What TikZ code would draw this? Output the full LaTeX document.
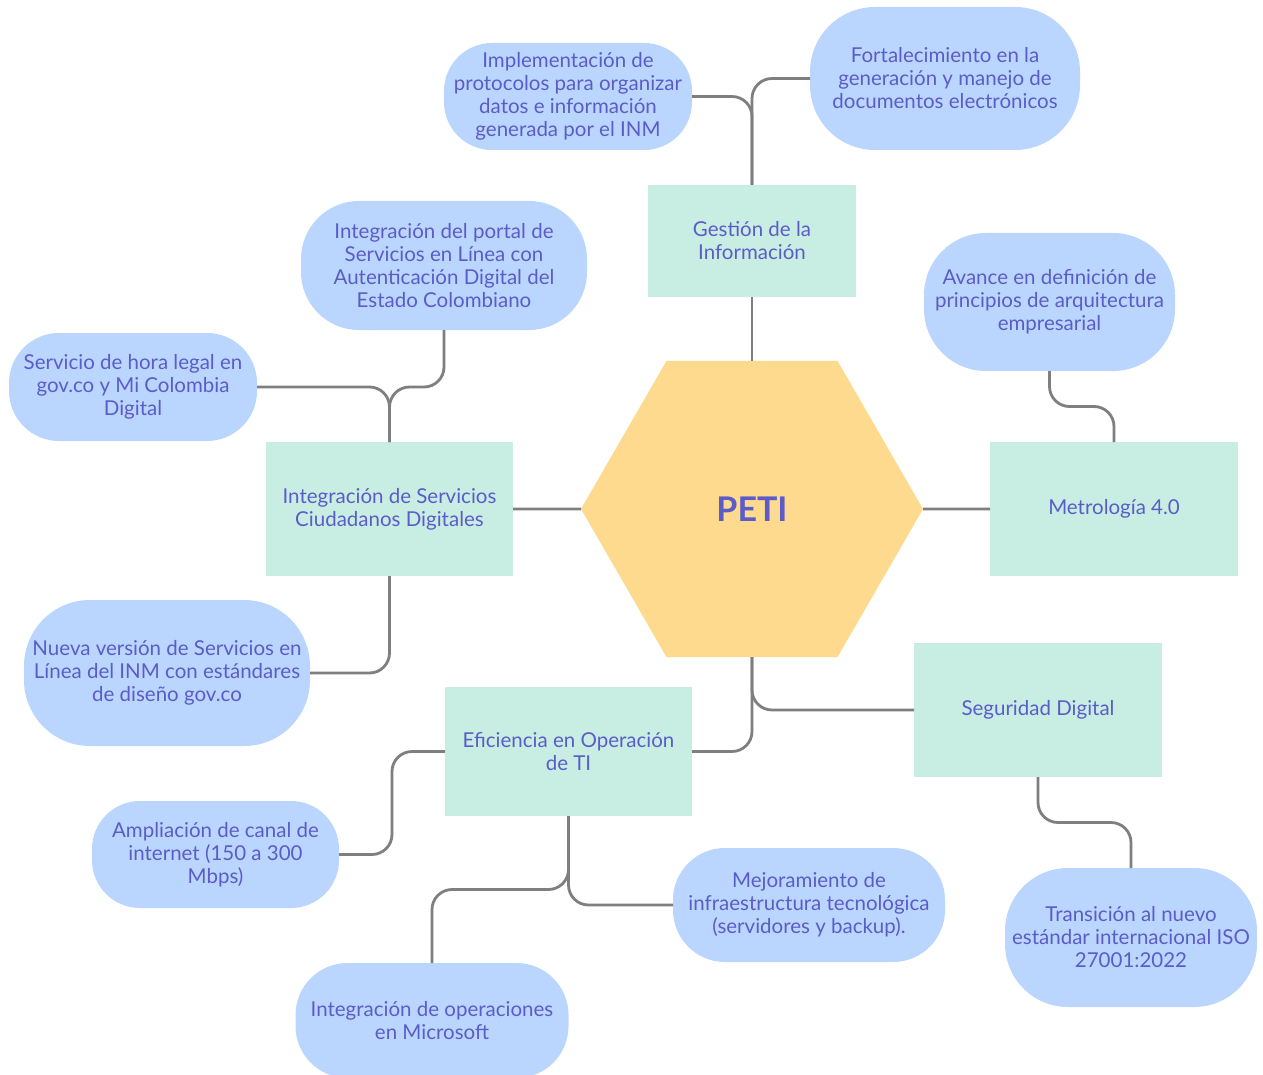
\documentclass[tikz,border=0pt]{standalone}
\usepackage{fontspec}
\setmainfont{Lato}
\usetikzlibrary{shapes.geometric,calc}
\definecolor{pillc}{HTML}{BAD6FE}
\definecolor{mintc}{HTML}{C8EDE3}
\definecolor{hexc}{HTML}{FEDA8F}
\definecolor{txtc}{HTML}{5C5CC8}
\definecolor{linec}{HTML}{7F7F7F}
\begin{document}
\begin{tikzpicture}[x=1pt,y=-1pt,
  txt/.style={text=txtc, font=\fontsize{20.5}{23}\selectfont, align=center, inner sep=0pt, outer sep=0pt},
  pill/.style={txt, fill=pillc, rounded corners=#1},
  boxn/.style={txt, fill=mintc},
  conn/.style={draw=linec, line width=2.8pt, rounded corners=20pt}]
\useasboundingbox (0,0) rectangle (1263,1075);
\fill[white] (0,0) rectangle (1263,1075);

\node[pill=48pt, minimum width=248pt, minimum height=107pt] (impl) at (568,96.5)
  {Implementación de\\protocolos para organizar\\datos e información\\generada por el INM};
\node[pill=65pt, minimum width=270pt, minimum height=143pt] (fort) at (945,78.5)
  {Fortalecimiento en la\\generación y manejo de\\documentos electrónicos};
\node[boxn, minimum width=208pt, minimum height=112pt] (gest) at (752,241)
  {Gestión de la\\Información};
\node[pill=58pt, minimum width=286pt, minimum height=129pt] (port) at (444,265.5)
  {Integración del portal de\\Servicios en Línea con\\Autenticación Digital del\\Estado Colombiano};
\node[pill=50pt, minimum width=248pt, minimum height=108pt] (serv) at (133,387)
  {Servicio de hora legal en\\gov.co y Mi Colombia\\Digital};
\node[pill=62pt, minimum width=251pt, minimum height=138pt] (avance) at (1049.5,302)
  {Avance en definición de\\principios de arquitectura\\empresarial};
\node[boxn, minimum width=247pt, minimum height=134pt] (intg) at (389.5,509)
  {Integración de Servicios\\Ciudadanos Digitales};
\node[regular polygon, regular polygon sides=6, minimum size=342pt, fill=hexc,
  inner sep=0pt, outer sep=0pt, text=txtc, font=\fontsize{34}{40}\selectfont\bfseries] (peti) at (752,509) {PETI};
\node[boxn, minimum width=248pt, minimum height=134pt] (met) at (1114,509)
  {Metrología 4.0};
\node[pill=66pt, minimum width=286pt, minimum height=146pt] (nueva) at (167,673)
  {Nueva versión de Servicios en\\Línea del INM con estándares\\de diseño gov.co};
\node[boxn, minimum width=248pt, minimum height=134pt] (seg) at (1038,710)
  {Seguridad Digital};
\node[boxn, minimum width=247pt, minimum height=129pt] (efic) at (568.5,751.5)
  {Eficiencia en Operación\\de TI};
\node[pill=48pt, minimum width=247pt, minimum height=107pt] (ampl) at (215.5,854.5)
  {Ampliación de canal de\\internet (150 a 300\\Mbps)};
\node[pill=52pt, minimum width=272pt, minimum height=114pt] (mejo) at (809,905)
  {Mejoramiento de\\infraestructura tecnológica\\(servidores y backup).};
\node[pill=63pt, minimum width=252pt, minimum height=139pt] (trans) at (1131,937.5)
  {Transición al nuevo\\estándar internacional ISO\\27001:2022};
\node[pill=52pt, minimum width=273pt, minimum height=115pt] (ops) at (432,1020.5)
  {Integración de operaciones\\en Microsoft};

\coordinate (m1) at ($(met.north)!.5!(avance.south)$);
\coordinate (m2) at ($(seg.south)!.5!(trans.north)$);
\coordinate (m3) at ($(efic.west)!.5!(ampl.east)$);
\coordinate (m4) at ($(efic.south)!.5!(ops.north)$);

\draw[conn] (gest.north) |- (impl.east);
\draw[conn] (gest.north) |- (fort.west);
\draw[conn] (peti.north) -- (gest.south);
\draw[conn] (peti.west) -- (intg.east);
\draw[conn] (intg.north) |- (serv.east);
\draw[conn] (intg.north) |- (serv.east -| port.south) -- (port.south);
\draw[conn] (intg.south) |- (nueva.east);
\draw[conn] (peti.east) -- (met.west);
\draw[conn] (met.north) -- (met.north |- m1) -- (avance.south |- m1) -- (avance.south);
\draw[conn] (peti.south) |- (seg.west);
\draw[conn] (peti.south) |- (efic.east);
\draw[conn] (seg.south) -- (seg.south |- m2) -- (trans.north |- m2) -- (trans.north);
\draw[conn] (efic.west) -- (efic.west -| m3) -- (ampl.east -| m3) -- (ampl.east);
\draw[conn] (efic.south) -- (efic.south |- m4) -- (ops.north |- m4) -- (ops.north);
\draw[conn] (efic.south) |- (mejo.west);
\end{tikzpicture}
\end{document}
